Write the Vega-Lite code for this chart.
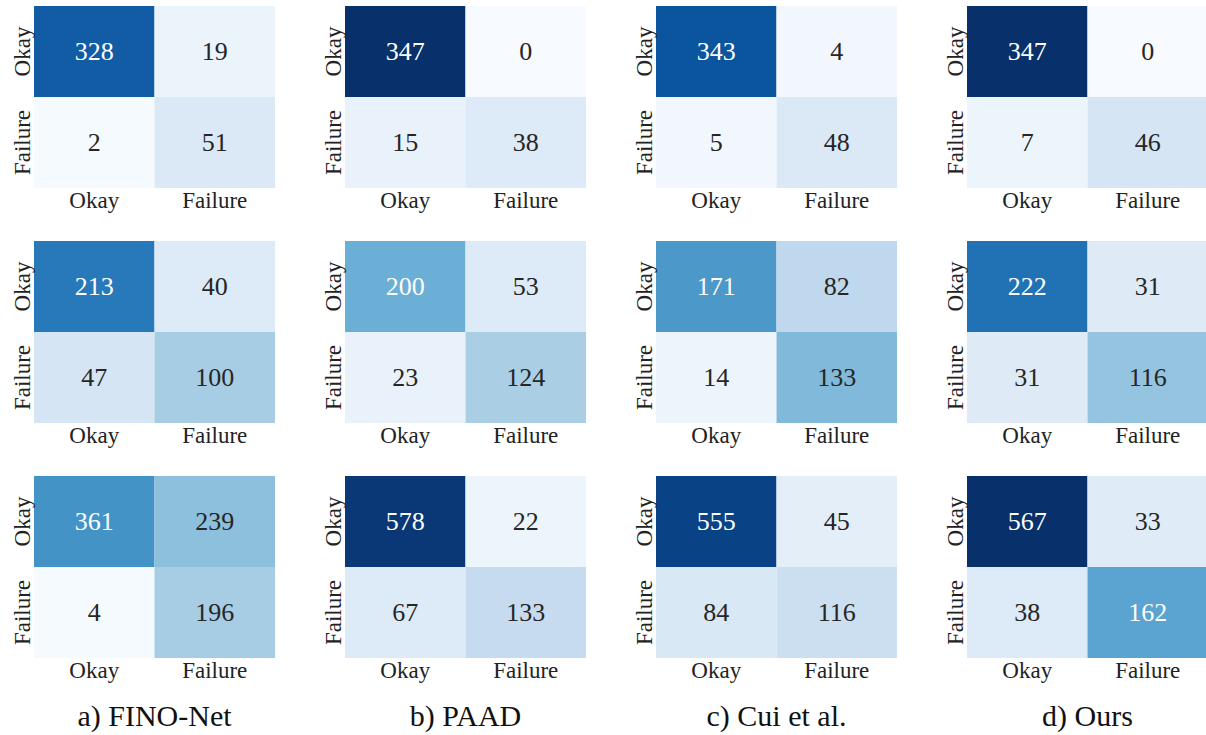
{
  "$schema": "https://vega.github.io/schema/vega-lite/v6.json",
  "padding": {"left": 10, "top": 6, "right": 0, "bottom": 0},
  "background": "white",
  "bounds": "flush",
  "spacing": {"row": 53, "column": 70},
  "config": {"view": {"stroke": null}, "font": "Liberation Serif"},
  "data": {"values": [
    {"method": "a) FINO-Net", "set": 1, "actual": "Okay", "predicted": "Okay", "count": 328, "shade": 0.83},
    {"method": "a) FINO-Net", "set": 1, "actual": "Okay", "predicted": "Failure", "count": 19, "shade": 0.06},
    {"method": "a) FINO-Net", "set": 1, "actual": "Failure", "predicted": "Okay", "count": 2, "shade": 0.01},
    {"method": "a) FINO-Net", "set": 1, "actual": "Failure", "predicted": "Failure", "count": 51, "shade": 0.14},
    {"method": "b) PAAD", "set": 1, "actual": "Okay", "predicted": "Okay", "count": 347, "shade": 1.0},
    {"method": "b) PAAD", "set": 1, "actual": "Okay", "predicted": "Failure", "count": 0, "shade": 0.0},
    {"method": "b) PAAD", "set": 1, "actual": "Failure", "predicted": "Okay", "count": 15, "shade": 0.07},
    {"method": "b) PAAD", "set": 1, "actual": "Failure", "predicted": "Failure", "count": 38, "shade": 0.13},
    {"method": "c) Cui et al.", "set": 1, "actual": "Okay", "predicted": "Okay", "count": 343, "shade": 0.86},
    {"method": "c) Cui et al.", "set": 1, "actual": "Okay", "predicted": "Failure", "count": 4, "shade": 0.03},
    {"method": "c) Cui et al.", "set": 1, "actual": "Failure", "predicted": "Okay", "count": 5, "shade": 0.03},
    {"method": "c) Cui et al.", "set": 1, "actual": "Failure", "predicted": "Failure", "count": 48, "shade": 0.14},
    {"method": "d) Ours", "set": 1, "actual": "Okay", "predicted": "Okay", "count": 347, "shade": 1.0},
    {"method": "d) Ours", "set": 1, "actual": "Okay", "predicted": "Failure", "count": 0, "shade": 0.0},
    {"method": "d) Ours", "set": 1, "actual": "Failure", "predicted": "Okay", "count": 7, "shade": 0.05},
    {"method": "d) Ours", "set": 1, "actual": "Failure", "predicted": "Failure", "count": 46, "shade": 0.17},
    {"method": "a) FINO-Net", "set": 2, "actual": "Okay", "predicted": "Okay", "count": 213, "shade": 0.72},
    {"method": "a) FINO-Net", "set": 2, "actual": "Okay", "predicted": "Failure", "count": 40, "shade": 0.13},
    {"method": "a) FINO-Net", "set": 2, "actual": "Failure", "predicted": "Okay", "count": 47, "shade": 0.17},
    {"method": "a) FINO-Net", "set": 2, "actual": "Failure", "predicted": "Failure", "count": 100, "shade": 0.35},
    {"method": "b) PAAD", "set": 2, "actual": "Okay", "predicted": "Okay", "count": 200, "shade": 0.5},
    {"method": "b) PAAD", "set": 2, "actual": "Okay", "predicted": "Failure", "count": 53, "shade": 0.13},
    {"method": "b) PAAD", "set": 2, "actual": "Failure", "predicted": "Okay", "count": 23, "shade": 0.07},
    {"method": "b) PAAD", "set": 2, "actual": "Failure", "predicted": "Failure", "count": 124, "shade": 0.34},
    {"method": "c) Cui et al.", "set": 2, "actual": "Okay", "predicted": "Okay", "count": 171, "shade": 0.6},
    {"method": "c) Cui et al.", "set": 2, "actual": "Okay", "predicted": "Failure", "count": 82, "shade": 0.27},
    {"method": "c) Cui et al.", "set": 2, "actual": "Failure", "predicted": "Okay", "count": 14, "shade": 0.05},
    {"method": "c) Cui et al.", "set": 2, "actual": "Failure", "predicted": "Failure", "count": 133, "shade": 0.45},
    {"method": "d) Ours", "set": 2, "actual": "Okay", "predicted": "Okay", "count": 222, "shade": 0.75},
    {"method": "d) Ours", "set": 2, "actual": "Okay", "predicted": "Failure", "count": 31, "shade": 0.125},
    {"method": "d) Ours", "set": 2, "actual": "Failure", "predicted": "Okay", "count": 31, "shade": 0.125},
    {"method": "d) Ours", "set": 2, "actual": "Failure", "predicted": "Failure", "count": 116, "shade": 0.4},
    {"method": "a) FINO-Net", "set": 3, "actual": "Okay", "predicted": "Okay", "count": 361, "shade": 0.62},
    {"method": "a) FINO-Net", "set": 3, "actual": "Okay", "predicted": "Failure", "count": 239, "shade": 0.42},
    {"method": "a) FINO-Net", "set": 3, "actual": "Failure", "predicted": "Okay", "count": 4, "shade": 0.01},
    {"method": "a) FINO-Net", "set": 3, "actual": "Failure", "predicted": "Failure", "count": 196, "shade": 0.35},
    {"method": "b) PAAD", "set": 3, "actual": "Okay", "predicted": "Okay", "count": 578, "shade": 0.97},
    {"method": "b) PAAD", "set": 3, "actual": "Okay", "predicted": "Failure", "count": 22, "shade": 0.05},
    {"method": "b) PAAD", "set": 3, "actual": "Failure", "predicted": "Okay", "count": 67, "shade": 0.13},
    {"method": "b) PAAD", "set": 3, "actual": "Failure", "predicted": "Failure", "count": 133, "shade": 0.25},
    {"method": "c) Cui et al.", "set": 3, "actual": "Okay", "predicted": "Okay", "count": 555, "shade": 0.93},
    {"method": "c) Cui et al.", "set": 3, "actual": "Okay", "predicted": "Failure", "count": 45, "shade": 0.1},
    {"method": "c) Cui et al.", "set": 3, "actual": "Failure", "predicted": "Okay", "count": 84, "shade": 0.15},
    {"method": "c) Cui et al.", "set": 3, "actual": "Failure", "predicted": "Failure", "count": 116, "shade": 0.22},
    {"method": "d) Ours", "set": 3, "actual": "Okay", "predicted": "Okay", "count": 567, "shade": 1.0},
    {"method": "d) Ours", "set": 3, "actual": "Okay", "predicted": "Failure", "count": 33, "shade": 0.12},
    {"method": "d) Ours", "set": 3, "actual": "Failure", "predicted": "Okay", "count": 38, "shade": 0.13},
    {"method": "d) Ours", "set": 3, "actual": "Failure", "predicted": "Failure", "count": 162, "shade": 0.55}
  ]},
  "facet": {
    "row": {"field": "set", "type": "ordinal", "header": {"labels": false, "title": null}},
    "column": {"field": "method", "type": "nominal", "sort": ["a) FINO-Net", "b) PAAD", "c) Cui et al.", "d) Ours"],
      "header": {"title": null, "labelOrient": "bottom", "labelFont": "Liberation Serif", "labelFontSize": 30, "labelColor": "#111111", "labelPadding": 44}}
  },
  "resolve": {"axis": {"x": "independent", "y": "independent"}},
  "spec": {
    "width": 241,
    "height": 182,
    "encoding": {
      "x": {"field": "predicted", "type": "nominal", "sort": ["Okay", "Failure"], "title": null,
        "axis": {"labelAngle": 0, "ticks": false, "domain": false, "labelFont": "Liberation Serif", "labelFontSize": 23, "labelColor": "#222222", "labelPadding": 1}},
      "y": {"field": "actual", "type": "nominal", "sort": ["Okay", "Failure"], "title": null,
        "axis": {"labelAngle": -90, "labelAlign": "center", "labelBaseline": "bottom", "ticks": false, "domain": false, "labelFont": "Liberation Serif", "labelFontSize": 23, "labelColor": "#222222", "labelPadding": 0}}
    },
    "layer": [
      {"mark": {"type": "rect"},
       "encoding": {"color": {"field": "shade", "type": "quantitative", "legend": null,
         "scale": {"domain": [0, 0.125, 0.25, 0.375, 0.5, 0.625, 0.75, 0.875, 1],
                   "range": ["#f7fbff", "#deebf7", "#c6dbef", "#9ecae1", "#6baed6", "#4292c6", "#2171b5", "#08519c", "#08306b"]}}}},
      {"mark": {"type": "text", "font": "Liberation Serif", "fontSize": 26},
       "encoding": {"text": {"field": "count", "type": "quantitative"},
         "color": {"condition": {"test": "datum.shade > 0.48", "value": "white"}, "value": "#262626"}}}
    ]
  }
}
